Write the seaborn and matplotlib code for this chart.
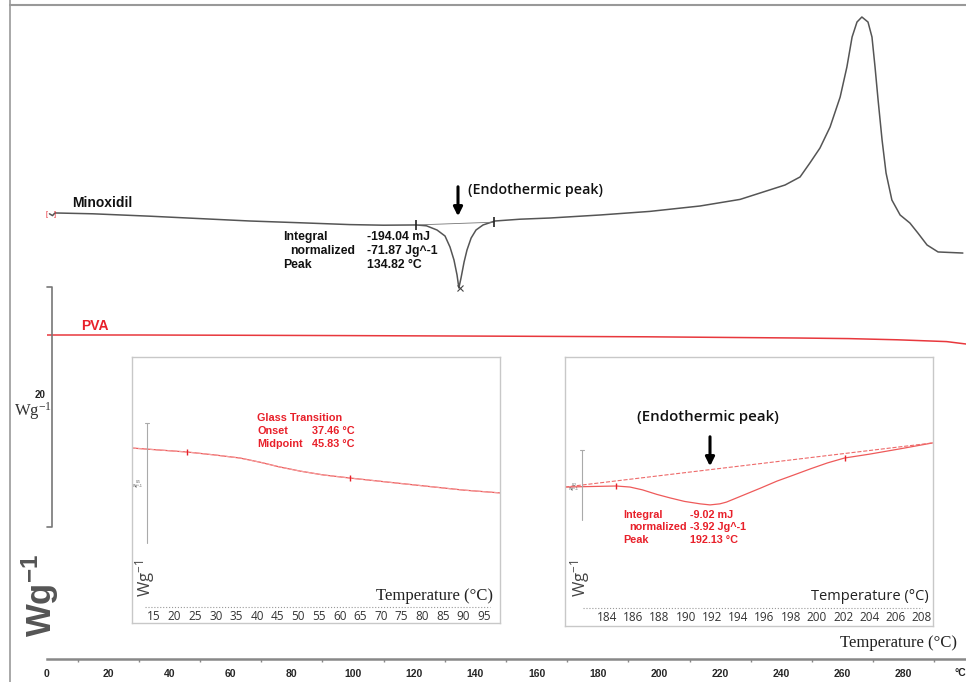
import numpy as np
import pandas as pd
import matplotlib
matplotlib.use('Agg')
import matplotlib.pyplot as plt
import seaborn as sns

sns.set_style('white')
plt.rcParams['font.family'] = ['Liberation Sans', 'DejaVu Sans']
plt.rcParams['mathtext.default'] = 'regular'

# Minoxidil DSC trace (temperature in degC, heat flow in W/g, offset)
mino_temp = [0.8, 1.8, 2.6, 15, 33.7, 50, 66.3, 83, 99, 110, 120.6, 124.0, 127.45, 130.07,
             131.7, 133.0, 134.0, 134.6, 135.3, 136.3, 137.25, 138.6, 140.2, 142.5, 146.4,
             154.6, 164.4, 180.7, 197, 213.4, 226.5, 236.3, 241.2, 246.1, 249.3, 252.6,
             255.9, 259.2, 261.4, 263.1, 264.7, 266.3, 268.3, 269.6, 270.6, 271.6, 272.9,
             274.2, 276.1, 278.8, 282.0, 284.6, 287.6, 291.2, 299.3]
mino_flow = [37.1, 36.95, 37.17, 37.1, 36.9, 36.7, 36.5, 36.35, 36.2, 36.15, 36.17, 36.1,
             35.75, 35.25, 34.33, 33.25, 32.0, 30.92, 31.75, 33.08, 34.08, 35.08, 35.75,
             36.17, 36.5, 36.65, 36.75, 37.0, 37.3, 37.75, 38.3, 39.1, 39.5, 40.17, 41.33,
             42.58, 44.33, 46.83, 49.33, 51.83, 53.08, 53.5, 53.08, 51.83, 49.33, 46.58,
             43.25, 40.5, 38.25, 37.0, 36.33, 35.5, 34.5, 33.92, 33.83]
mino_limits = [120.6, 146.1]
mino_limit_flow = [36.17, 36.4]
mino_peak = [134.82]
mino_peak_flow = [30.9]

# PVA DSC trace
pva_temp = [0, 30, 60, 98, 150, 196, 245, 262, 278, 294, 300.3]
pva_flow = [27.0, 27.0, 26.98, 26.95, 26.9, 26.85, 26.75, 26.7, 26.6, 26.45, 26.25]

# inset 1: PVA glass transition
gt_temp = [9.7, 23.0, 29.8, 35.8, 40.7, 45.5, 50.4, 56.0, 62.5, 73.9, 89.9, 98.9]
gt_flow = [0.729, 0.7125, 0.70, 0.6875, 0.67, 0.65, 0.633, 0.617, 0.604, 0.583, 0.554, 0.542]
gt_marks = [23.0, 62.5]
gt_mark_flow = [0.7125, 0.604]
gt_ticks = list(range(15, 100, 5))

# inset 2: PVA endothermic peak
en_temp = [180.8, 184.7, 185.75, 186.7, 187.8, 188.8, 189.9, 191.1, 191.85, 192.6, 193.1,
           194.4, 195.7, 196.95, 198.2, 199.5, 200.8, 202.1, 204.0, 206.3, 208.8]
en_flow = [0.397, 0.400, 0.397, 0.389, 0.376, 0.366, 0.356, 0.349, 0.346, 0.349, 0.354,
           0.374, 0.394, 0.414, 0.431, 0.449, 0.466, 0.48, 0.491, 0.506, 0.523]
en_base_temp = [180.8, 208.8]
en_base_flow = [0.397, 0.523]
en_marks = [184.7, 202.1]
en_mark_flow = [0.400, 0.48]
en_ticks = list(range(184, 209, 2))

W, H = 966, 682
fig = plt.figure(figsize=(W / 100, H / 100), dpi=100)

def frac(x0, y0, x1, y1):
    return [x0 / W, (H - y1) / H, (x1 - x0) / W, (y1 - y0) / H]

red = '#e8202a'

# main axes
ax = fig.add_axes(frac(47, 5, 966, 659))
sns.lineplot(x=mino_temp, y=mino_flow, ax=ax, color='#555555', lw=1.1, sort=False)
sns.lineplot(x=pva_temp, y=pva_flow, ax=ax, color='#e8383d', lw=1.1, sort=False)
ax.plot(mino_limits, mino_limit_flow, color='#777777', lw=0.6)
ax.plot(mino_limits, mino_limit_flow, ls='none', marker='|', ms=7, mew=1.2, color='#222222')
ax.plot(mino_peak, mino_peak_flow, ls='none', marker='x', ms=5, mew=0.8, color='#444444')
ax.set_xlim(0, (966 - 47) / 3.06)
ax.set_ylim(0, (659 - 5) / 12)
for s in ['top', 'left', 'right']:
    ax.spines[s].set_visible(False)
ax.spines['bottom'].set_color('#888888')
ax.spines['bottom'].set_linewidth(1.8)
ax.set_xticks(list(range(0, 281, 20)))
ax.set_xticks(list(range(0, 291, 10)), minor=True)
ax.set_yticks([])
ax.tick_params(axis='x', which='major', length=4, width=1, color='#888888', pad=3,
               labelsize=7.5)
ax.tick_params(axis='x', which='minor', length=2.5, width=1, color='#888888', bottom=True)
for lab in ax.get_xticklabels():
    lab.set_fontweight('bold')
ax.set_facecolor('none')

# inset 1
ax1 = fig.add_axes(frac(132, 357, 500, 623))
sns.lineplot(x=gt_temp, y=gt_flow, ax=ax1, color='#ee5a5a', lw=0.9, sort=False)
ax1.plot(gt_temp, gt_flow, color='#f4a0a0', lw=0.8, ls='--')
ax1.plot(gt_marks, gt_mark_flow, ls='none', marker='|', ms=4, color=red)
ax1.set_xlim(15 + (132 - 154) / 4.125, 15 + (500 - 154) / 4.125)
ax1.set_ylim(0, (623 - 357) / 240)
ax1.set_xticks(gt_ticks)
ax1.set_yticks([])
ax1.tick_params(axis='x', length=0, pad=-9, labelsize=8.5, labelcolor='#333333')
for lab in ax1.get_xticklabels():
    lab.set_fontfamily('Open Sans')
ax1.axhline((623 - 607) / 240, 0.035, 0.973, color='#999999', lw=0.8, ls=':')
ax1.text(0.823, 0.1015, 'Temperature (°C)', transform=ax1.transAxes, ha='center',
         va='center', fontsize=12, family='Liberation Serif', color='#222222')
ax1.text(0.035, 0.169, 'Wg$^{-1}$', transform=ax1.transAxes, ha='center', va='center',
         fontsize=12, rotation=90, color='#444444', family='Open Sans')
for s in ax1.spines.values():
    s.set_color('#c8c8c8')
    s.set_linewidth(1)

# inset 2
ax2 = fig.add_axes(frac(565, 357, 933, 626))
sns.lineplot(x=en_temp, y=en_flow, ax=ax2, color='#ee5a5a', lw=0.9, sort=False)
ax2.plot(en_base_temp, en_base_flow, color='#ee6a6a', lw=0.8, ls='--')
ax2.plot(en_marks, en_mark_flow, ls='none', marker='|', ms=4, color=red)
ax2.set_xlim(184 + (565 - 607) / 13.125, 184 + (933 - 607) / 13.125)
ax2.set_ylim(0, (626 - 357) / 350)
ax2.set_xticks(en_ticks)
ax2.set_yticks([])
ax2.tick_params(axis='x', length=0, pad=-11, labelsize=8.5, labelcolor='#333333')
for lab in ax2.get_xticklabels():
    lab.set_fontfamily('Open Sans')
ax2.axhline((626 - 608) / 350, 0.05, 0.97, color='#999999', lw=0.8, ls=':')
ax2.text(0.829, 0.1115, 'Temperature (°C)', transform=ax2.transAxes, ha='center',
         va='center', fontsize=10.5, family='Open Sans', color='#222222')
ax2.text(0.041, 0.178, 'Wg$^{-1}$', transform=ax2.transAxes, ha='center', va='center',
         fontsize=12, rotation=90, color='#444444', family='Open Sans')
for s in ax2.spines.values():
    s.set_color('#c8c8c8')
    s.set_linewidth(1)

# overlay in pixel units for frame, scale bars and labels
ov = fig.add_axes([0, 0, 1, 1])
ov.set_xlim(0, W)
ov.set_ylim(H, 0)
ov.axis('off')
ov.patch.set_alpha(0)

ov.plot([10, 10], [0, H], color='#999999', lw=1.2)
ov.plot([10, W], [5, 5], color='#999999', lw=1.5)
ov.plot([47, 52, 52, 47], [287, 287, 527, 527], color='#777777', lw=1.2)
ov.plot([147, 147], [423, 543], color='#aaaaaa', lw=0.8)
ov.plot([145, 149], [423, 423], color='#aaaaaa', lw=0.8)
ov.plot([582, 582], [450, 520], color='#aaaaaa', lw=0.8)
ov.plot([580, 584], [450, 450], color='#aaaaaa', lw=0.8)
ov.text(138, 484, '0.5\nWg^-1', fontsize=2.5, ha='center', va='center', color='#555555')
ov.text(574, 487, '0.2\nWg^-1', fontsize=2.5, ha='center', va='center', color='#555555')

ov.text(51, 214, '[   ]', fontsize=5, ha='center', va='center', color=red)

ov.text(72, 203, 'Minoxidil', fontsize=10, fontweight='bold', va='center', color='#111111')
ov.text(81, 326, 'PVA', fontsize=10, fontweight='bold', va='center', color=red)

for lbl, val, xl, y in [('Integral', '-194.04 mJ', 283, 237),
                        ('normalized', '-71.87 Jg^-1', 290, 251),
                        ('Peak', '134.82 °C', 283, 265)]:
    ov.text(xl, y, lbl, fontsize=8.8, fontweight='bold', va='center', color='#111111')
    ov.text(367, y, val, fontsize=8.8, fontweight='bold', va='center', color='#111111')

ov.text(468, 190, '(Endothermic peak)', fontsize=10.3, va='center', family='Open Sans',
        fontweight='semibold', color='#111111')
ov.annotate('', xy=(458, 219), xytext=(458, 184),
            arrowprops=dict(arrowstyle='-|>', lw=2.2, color='black', mutation_scale=13))

ov.text(708, 417, '(Endothermic peak)', fontsize=10.8, ha='center', va='center',
        family='Open Sans', fontweight='semibold', color='#111111')
ov.annotate('', xy=(710, 469), xytext=(710, 434),
            arrowprops=dict(arrowstyle='-|>', lw=2.2, color='black', mutation_scale=13))

ov.text(257, 418, 'Glass Transition', fontsize=7.8, fontweight='bold', va='center', color=red)
ov.text(257, 431, 'Onset', fontsize=7.8, fontweight='bold', va='center', color=red)
ov.text(312, 431, '37.46 °C', fontsize=7.8, fontweight='bold', va='center', color=red)
ov.text(257, 444, 'Midpoint', fontsize=7.8, fontweight='bold', va='center', color=red)
ov.text(312, 444, '45.83 °C', fontsize=7.8, fontweight='bold', va='center', color=red)

for lbl, val, xl, y in [('Integral', '-9.02 mJ', 623, 515),
                        ('normalized', '-3.92 Jg^-1', 629, 527),
                        ('Peak', '192.13 °C', 623, 540)]:
    ov.text(xl, y, lbl, fontsize=7.8, fontweight='bold', va='center', color=red)
    ov.text(690, y, val, fontsize=7.8, fontweight='bold', va='center', color=red)

ov.text(40, 395, '20', fontsize=7, fontweight='bold', ha='center', va='center', color='#222222')
ov.text(33, 411, 'Wg$^{-1}$', fontsize=12, ha='center', va='center',
        family='Liberation Serif', color='#333333')
ov.text(40, 595, 'Wg$^{-1}$', fontsize=25, fontweight='bold', rotation=90, ha='center',
        va='center', color='#555555')

ov.text(899, 643, 'Temperature (°C)', fontsize=12, ha='center', va='center',
        family='Liberation Serif', color='#222222')
ov.text(960, 673, '°C', fontsize=7.5, fontweight='bold', ha='center', va='center',
        color='#222222')

fig.savefig('out.png', dpi=100)
